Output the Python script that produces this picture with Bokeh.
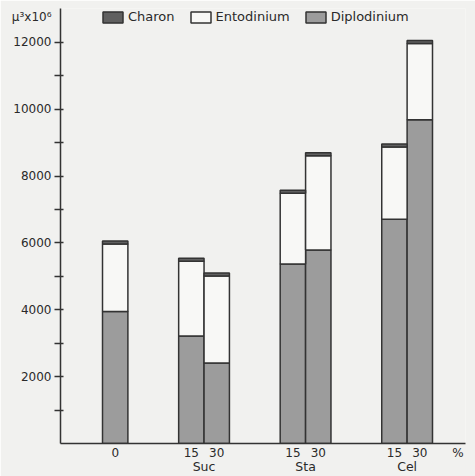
from bokeh.plotting import figure
from bokeh.models import FixedTicker, Range1d, Legend, LegendItem, ColumnDataSource, LinearAxis
from bokeh.embed import file_html
from bokeh.resources import INLINE

# ---- data ----
groups = ["", "Suc", "Suc", "Sta", "Sta", "Cel", "Cel"]
conc = ["0", "15", "30", "15", "30", "15", "30"]
diplodinium = [3950, 3220, 2410, 5370, 5790, 6710, 9690]
entodinium = [2020, 2230, 2600, 2120, 2820, 2160, 2280]
charon = [90, 90, 90, 90, 90, 90, 90]
y_ticks = [1000, 2000, 3000, 4000, 5000, 6000, 7000, 8000, 9000, 10000, 11000, 12000]
y_labeled = [2000, 4000, 6000, 8000, 10000, 12000]
unit_text = "μ³x10⁶"
pct_text = "%"

# ---- styles / layout ----
BG = "#f1f1ef"
LINE = "#333333"
GRAY = "#9c9c9c"
CHAR = "#606060"
WHITE = "#f8f8f6"
TXT = "#2a2a2a"
FONT = "DejaVu Sans"
GAP = 2.0
Y_END = 13017
UNIT_POS = 12776

# bar positions derived from group structure
xs = []
cursor = 0.0
prev = None
for i, g in enumerate(groups):
    if i > 0 and g != prev:
        cursor += GAP
    xs.append(cursor + 0.5)
    cursor += 1.0
    prev = g
pct_pos = cursor + 1.0

src = ColumnDataSource(dict(x=xs, diplodinium=diplodinium, entodinium=entodinium, charon=charon))

p = figure(width=475, height=476, output_backend="svg", toolbar_location=None,
           x_range=Range1d(-1.655, 14.3), y_range=Range1d(0, Y_END),
           min_border_left=60, min_border_right=10, min_border_top=8, min_border_bottom=30,
           background_fill_color=BG, border_fill_color=BG, outline_line_color=None)
p.grid.visible = False

rs = p.vbar_stack(["diplodinium", "entodinium", "charon"], x="x", width=1.0, source=src,
                  fill_color=[GRAY, WHITE, CHAR], line_color=LINE, line_width=1.5)

# y axis: labels on (invisible) major ticks, tick marks as minor ticks
yax = p.yaxis[0]
yax.ticker = FixedTicker(ticks=y_labeled + [UNIT_POS], minor_ticks=y_ticks)
ylab = {t: str(t) for t in y_labeled}
ylab[UNIT_POS] = unit_text
yax.major_label_overrides = ylab
yax.major_tick_in = 0
yax.major_tick_out = 6
yax.major_tick_line_color = None
yax.minor_tick_in = 3
yax.minor_tick_out = 6
yax.minor_tick_line_width = 1.5
yax.minor_tick_line_color = LINE
yax.axis_line_width = 1.5
yax.axis_line_color = LINE
yax.major_label_text_font = FONT
yax.major_label_text_font_size = "12px"
yax.major_label_text_color = TXT
yax.major_label_standoff = 3

# x axis: concentration labels
xax = p.xaxis[0]
xax.ticker = FixedTicker(ticks=xs + [pct_pos])
ov = {x: c for x, c in zip(xs, conc)}
ov[pct_pos] = pct_text
xax.major_label_overrides = ov
xax.major_tick_in = 0
xax.major_tick_out = 0
xax.minor_tick_line_color = None
xax.axis_line_width = 1.5
xax.axis_line_color = LINE
xax.major_label_text_font = FONT
xax.major_label_text_font_size = "12px"
xax.major_label_text_color = TXT
xax.major_label_standoff = 2

# second x axis: group labels
seen = []
for g in groups:
    if g and g not in seen:
        seen.append(g)
gpos = []
for g in seen:
    gx = [x for x, gg in zip(xs, groups) if gg == g]
    gpos.append(sum(gx) / len(gx))
gax = LinearAxis(ticker=FixedTicker(ticks=gpos),
                 major_label_overrides={x: g for x, g in zip(gpos, seen)},
                 axis_line_color=None, major_tick_line_color=None, minor_tick_line_color=None,
                 major_tick_in=0, major_tick_out=0, major_label_standoff=-4,
                 major_label_text_font=FONT, major_label_text_font_size="12.5px",
                 major_label_text_color=TXT)
p.add_layout(gax, "below")

legend = Legend(items=[LegendItem(label="Charon", renderers=[rs[2]]),
                       LegendItem(label="Entodinium", renderers=[rs[1]]),
                       LegendItem(label="Diplodinium", renderers=[rs[0]])],
                orientation="horizontal", location=(40, 419),
                glyph_width=25, glyph_height=14, label_standoff=3, spacing=13,
                padding=0, margin=0, border_line_color=None, background_fill_alpha=0,
                label_text_font=FONT, label_text_font_size="13px", label_text_color=TXT,
                label_height=14, label_width=10)
p.add_layout(legend)

open("out.html", "w").write(file_html(p, INLINE))
